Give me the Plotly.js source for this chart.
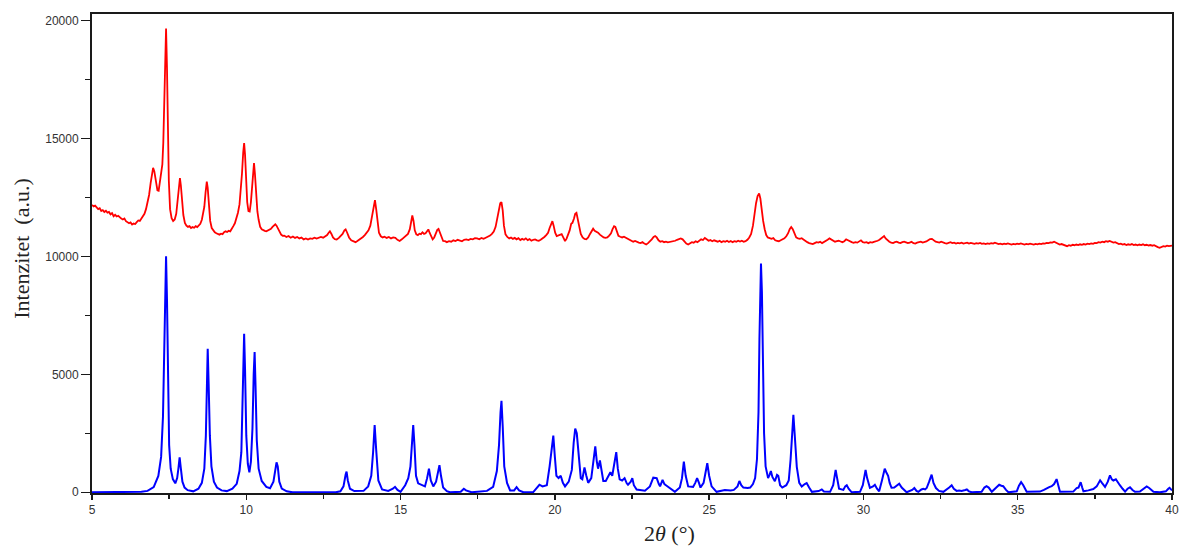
<!DOCTYPE html>
<html>
<head>
<meta charset="utf-8">
<script src="https://cdn.plot.ly/plotly-3.0.1.min.js"></script>
<style>html,body{margin:0;padding:0;background:#fff;}#chart{width:1181px;height:547px;}</style>
</head>
<body>
<div id="chart"></div>
<script>
// Experimental pattern (red): [2theta, intensity]
const redPoints = [
[5.00,12180],[5.05,12120],[5.10,12150],[5.15,12060],[5.20,12000],[5.25,12040],[5.30,11920],[5.35,11960],[5.40,11880],[5.45,11930],
[5.50,11850],[5.55,11880],[5.60,11780],[5.65,11830],[5.70,11700],[5.75,11760],[5.80,11690],[5.85,11720],[5.90,11640],[5.95,11600],
[6.00,11560],[6.05,11600],[6.10,11490],[6.15,11450],[6.20,11400],[6.25,11440],[6.30,11350],[6.35,11390],[6.40,11370],[6.45,11450],
[6.50,11520],[6.55,11500],[6.60,11600],[6.65,11650],[6.70,11800],[6.75,12000],[6.80,12250],[6.85,12600],[6.90,13100],[6.95,13650],
[6.98,13750],[7.02,13600],[7.07,13150],[7.12,12800],[7.16,12780],[7.20,13100],[7.24,13600],[7.28,13900],[7.31,14800],[7.34,16800],
[7.37,18800],[7.40,19650],[7.43,18000],[7.46,15400],[7.49,13200],[7.53,12000],[7.58,11620],[7.63,11500],[7.68,11560],[7.73,11800],
[7.78,12400],[7.82,13000],[7.85,13320],[7.88,13000],[7.92,12300],[7.96,11750],[8.01,11420],[8.06,11300],[8.11,11250],[8.16,11280],
[8.21,11200],[8.26,11240],[8.31,11210],[8.36,11280],[8.41,11240],[8.46,11300],[8.51,11380],[8.56,11550],[8.60,11850],[8.64,12100],
[8.68,12700],[8.72,13170],[8.75,12900],[8.79,12100],[8.83,11500],[8.88,11200],[8.93,11100],[8.98,11020],[9.03,10980],[9.08,10950],
[9.13,10920],[9.18,10960],[9.23,10940],[9.28,11020],[9.33,11060],[9.38,11030],[9.43,11080],[9.48,11060],[9.53,11150],[9.58,11280],
[9.63,11400],[9.68,11600],[9.73,11850],[9.78,12200],[9.82,12700],[9.86,13500],[9.90,14400],[9.93,14800],[9.96,14300],[9.99,13300],
[10.03,12300],[10.07,11920],[10.11,11900],[10.15,12300],[10.19,13000],[10.22,13700],[10.25,13950],[10.28,13500],[10.32,12600],[10.36,11900],
[10.40,11550],[10.45,11250],[10.50,11150],[10.55,11100],[10.60,11080],[10.65,11060],[10.70,11100],[10.75,11130],[10.80,11170],[10.85,11250],
[10.90,11330],[10.94,11360],[10.98,11300],[11.03,11150],[11.08,11000],[11.13,10920],[11.18,10870],[11.23,10880],[11.30,10820],[11.37,10860],
[11.44,10790],[11.51,10840],[11.58,10780],[11.65,10820],[11.72,10760],[11.79,10800],[11.86,10720],[11.93,10760],[12.00,10710],[12.07,10760],
[12.14,10740],[12.21,10790],[12.28,10750],[12.35,10780],[12.42,10820],[12.49,10790],[12.56,10850],[12.62,10900],[12.67,11000],[12.71,11060],
[12.76,10950],[12.81,10800],[12.87,10730],[12.93,10710],[13.00,10780],[13.06,10850],[13.12,10950],[13.18,11100],[13.22,11140],[13.27,11000],
[13.33,10800],[13.40,10680],[13.47,10640],[13.54,10600],[13.60,10650],[13.66,10700],[13.72,10760],[13.78,10820],[13.84,10900],[13.90,10980],
[13.96,11100],[14.02,11300],[14.08,11700],[14.13,12200],[14.17,12380],[14.21,12000],[14.25,11400],[14.30,11000],[14.36,10850],[14.42,10800],
[14.48,10830],[14.55,10780],[14.62,10820],[14.69,10760],[14.76,10800],[14.83,10780],[14.90,10700],[14.97,10650],[15.04,10720],[15.11,10800],
[15.18,10870],[15.24,10950],[15.30,11150],[15.34,11500],[15.38,11730],[15.42,11500],[15.46,11100],[15.51,10930],[15.56,10900],[15.61,10960],
[15.66,10940],[15.71,11020],[15.76,10950],[15.81,10980],[15.86,11080],[15.90,11140],[15.94,11000],[15.99,10850],[16.04,10720],[16.09,10800],
[16.14,10950],[16.19,11120],[16.23,11160],[16.28,11000],[16.33,10800],[16.38,10650],[16.44,10640],[16.50,10600],[16.57,10640],[16.64,10620],
[16.71,10680],[16.78,10650],[16.85,10700],[16.92,10660],[16.99,10640],[17.06,10700],[17.13,10720],[17.20,10690],[17.27,10740],[17.34,10720],
[17.41,10770],[17.48,10760],[17.55,10720],[17.62,10780],[17.69,10740],[17.76,10790],[17.83,10830],[17.90,10880],[17.96,10950],[18.02,11050],
[18.08,11250],[18.13,11600],[18.18,12000],[18.23,12250],[18.27,12300],[18.31,11950],[18.35,11300],[18.40,10930],[18.46,10820],[18.52,10760],
[18.58,10800],[18.64,10740],[18.70,10780],[18.76,10720],[18.82,10770],[18.88,10690],[18.94,10740],[19.00,10700],[19.06,10760],[19.12,10690],
[19.18,10730],[19.24,10660],[19.30,10700],[19.36,10720],[19.42,10680],[19.48,10660],[19.54,10700],[19.60,10750],[19.66,10820],[19.72,10900],
[19.78,11000],[19.83,11200],[19.88,11420],[19.92,11490],[19.96,11300],[20.01,11000],[20.06,10860],[20.11,10880],[20.16,10920],[20.22,10940],
[20.28,10780],[20.33,10650],[20.38,10750],[20.43,10900],[20.48,11100],[20.53,11380],[20.57,11420],[20.62,11600],[20.66,11800],[20.70,11840],
[20.74,11600],[20.79,11200],[20.84,10950],[20.90,10800],[20.96,10740],[21.02,10720],[21.08,10800],[21.14,10950],[21.19,11100],[21.24,11170],
[21.29,11080],[21.34,11050],[21.40,11000],[21.46,10920],[21.52,10860],[21.58,10800],[21.64,10780],[21.70,10800],[21.76,10880],[21.82,10980],
[21.87,11150],[21.92,11280],[21.96,11250],[22.01,11000],[22.06,10870],[22.12,10830],[22.18,10800],[22.24,10830],[22.30,10790],[22.36,10760],
[22.42,10720],[22.48,10680],[22.54,10620],[22.60,10650],[22.66,10600],[22.72,10580],[22.78,10560],[22.84,10600],[22.90,10540],[22.96,10500],
[23.02,10560],[23.08,10620],[23.14,10720],[23.20,10820],[23.25,10860],[23.30,10800],[23.36,10680],[23.42,10620],[23.48,10640],[23.54,10600],
[23.60,10620],[23.66,10590],[23.72,10600],[23.78,10640],[23.84,10620],[23.90,10660],[23.96,10700],[24.02,10740],[24.08,10760],[24.14,10720],
[24.20,10620],[24.26,10540],[24.32,10500],[24.38,10540],[24.44,10600],[24.50,10580],[24.56,10640],[24.62,10600],[24.68,10660],[24.74,10720],
[24.80,10690],[24.86,10780],[24.92,10720],[24.98,10660],[25.04,10690],[25.10,10640],[25.16,10680],[25.22,10650],[25.28,10620],[25.34,10660],
[25.40,10600],[25.46,10640],[25.52,10620],[25.58,10660],[25.64,10610],[25.70,10650],[25.76,10600],[25.82,10640],[25.88,10620],[25.94,10660],
[26.00,10630],[26.06,10660],[26.12,10620],[26.18,10640],[26.24,10700],[26.30,10800],[26.36,10950],[26.42,11300],[26.47,11800],[26.52,12250],
[26.57,12550],[26.62,12660],[26.66,12450],[26.70,12000],[26.75,11500],[26.80,11150],[26.85,10900],[26.90,10800],[26.96,10780],[27.02,10740],
[27.08,10770],[27.14,10680],[27.20,10660],[27.26,10640],[27.32,10680],[27.38,10720],[27.44,10760],[27.50,10850],[27.56,10980],[27.61,11150],
[27.66,11240],[27.71,11150],[27.76,10950],[27.82,10800],[27.88,10760],[27.94,10740],[28.00,10770],[28.06,10700],[28.12,10640],[28.18,10600],
[28.24,10560],[28.30,10540],[28.36,10520],[28.42,10560],[28.48,10600],[28.54,10580],[28.60,10620],[28.66,10560],[28.72,10600],[28.78,10650],
[28.84,10700],[28.90,10760],[28.96,10700],[29.02,10660],[29.08,10620],[29.14,10640],[29.20,10660],[29.26,10630],[29.32,10600],[29.38,10640],
[29.44,10720],[29.50,10680],[29.56,10620],[29.62,10600],[29.68,10570],[29.74,10600],[29.80,10580],[29.86,10620],[29.92,10680],[29.98,10600],
[30.04,10580],[30.10,10600],[30.16,10560],[30.22,10600],[30.28,10580],[30.34,10610],[30.40,10620],[30.46,10660],[30.52,10700],[30.58,10760],
[30.63,10830],[30.67,10860],[30.72,10760],[30.78,10680],[30.84,10620],[30.90,10580],[30.96,10560],[31.02,10600],[31.08,10620],[31.14,10580],
[31.20,10560],[31.26,10600],[31.32,10620],[31.38,10590],[31.44,10560],[31.50,10580],[31.56,10620],[31.62,10560],[31.68,10540],[31.74,10580],
[31.80,10600],[31.86,10620],[31.92,10580],[31.98,10600],[32.04,10630],[32.10,10680],[32.16,10730],[32.22,10740],[32.28,10680],[32.34,10620],
[32.40,10600],[32.46,10580],[32.52,10620],[32.58,10580],[32.64,10560],[32.70,10540],[32.76,10580],[32.82,10600],[32.88,10560],[32.94,10580],
[33.00,10540],[33.06,10570],[33.12,10550],[33.18,10580],[33.24,10540],[33.30,10560],[33.36,10580],[33.42,10540],[33.48,10570],[33.54,10550],
[33.60,10530],[33.66,10560],[33.72,10540],[33.78,10570],[33.84,10530],[33.90,10550],[33.96,10520],[34.02,10550],[34.08,10530],[34.14,10560],
[34.20,10540],[34.26,10580],[34.32,10560],[34.38,10520],[34.44,10540],[34.50,10510],[34.56,10540],[34.62,10520],[34.68,10550],[34.74,10530],
[34.80,10500],[34.86,10530],[34.92,10510],[34.98,10540],[35.04,10520],[35.10,10550],[35.16,10520],[35.22,10500],[35.28,10530],[35.34,10510],
[35.40,10540],[35.46,10520],[35.52,10500],[35.58,10530],[35.64,10510],[35.70,10540],[35.76,10520],[35.82,10550],[35.88,10540],[35.94,10570],
[36.00,10560],[36.06,10590],[36.12,10580],[36.18,10620],[36.24,10570],[36.30,10540],[36.36,10500],[36.42,10520],[36.48,10480],[36.54,10450],
[36.60,10430],[36.66,10470],[36.72,10450],[36.78,10490],[36.84,10470],[36.90,10500],[36.96,10480],[37.02,10510],[37.08,10490],[37.14,10520],
[37.20,10500],[37.26,10540],[37.32,10520],[37.38,10550],[37.44,10530],[37.50,10570],[37.56,10560],[37.62,10600],[37.68,10580],[37.74,10620],
[37.80,10600],[37.86,10640],[37.92,10620],[37.98,10650],[38.04,10610],[38.10,10580],[38.16,10600],[38.22,10560],[38.28,10520],[38.34,10540],
[38.40,10500],[38.46,10520],[38.52,10480],[38.58,10510],[38.64,10490],[38.70,10520],[38.76,10480],[38.82,10500],[38.88,10470],[38.94,10500],
[39.00,10480],[39.06,10510],[39.12,10470],[39.18,10490],[39.24,10460],[39.30,10480],[39.36,10450],[39.42,10470],[39.48,10420],[39.54,10390],
[39.60,10360],[39.66,10400],[39.72,10430],[39.78,10410],[39.84,10450],[39.90,10430],[39.96,10460],[40.00,10450]
];

// Calculated pattern (blue): [2theta, intensity]
const bluePoints = [
[5.00,0],[6.30,0],[6.60,20],[6.80,60],[7.00,220],[7.15,690],[7.24,1500],[7.30,3200],[7.34,5500],[7.37,8500],
[7.40,10000],[7.43,8200],[7.46,4800],[7.50,2000],[7.55,1000],[7.62,560],[7.70,380],[7.76,600],[7.80,1000],[7.84,1480],
[7.88,1000],[7.93,450],[8.00,200],[8.10,90],[8.28,40],[8.45,150],[8.56,400],[8.64,1000],[8.69,2400],[8.72,4500],
[8.75,6080],[8.78,4600],[8.82,2400],[8.87,1100],[8.95,450],[9.05,200],[9.20,80],[9.37,50],[9.55,150],[9.69,360],
[9.78,900],[9.84,1700],[9.88,3600],[9.91,6000],[9.93,6720],[9.96,5200],[10.00,2400],[10.05,1200],[10.10,850],[10.15,1300],
[10.20,2700],[10.24,5000],[10.27,5940],[10.30,4500],[10.34,2200],[10.40,1000],[10.50,480],[10.65,230],[10.77,170],[10.88,450],
[10.94,850],[10.98,1270],[11.02,1100],[11.07,450],[11.15,160],[11.31,40],[11.50,0],[12.90,0],[13.05,40],[13.15,250],
[13.22,750],[13.25,880],[13.29,500],[13.36,150],[13.50,50],[13.80,60],[13.95,250],[14.05,700],[14.11,1700],[14.16,2850],
[14.21,1800],[14.28,500],[14.40,120],[14.60,60],[14.75,150],[14.82,230],[14.90,100],[15.00,20],[15.15,300],[15.25,600],
[15.32,1100],[15.37,2200],[15.41,2850],[15.45,2000],[15.50,700],[15.57,380],[15.68,300],[15.79,250],[15.86,600],[15.92,1000],
[15.98,500],[16.06,250],[16.15,450],[16.21,900],[16.26,1150],[16.31,700],[16.38,200],[16.50,50],[16.60,0],[16.95,20],
[17.05,150],[17.12,80],[17.30,0],[17.80,60],[18.00,230],[18.12,900],[18.19,2000],[18.24,3400],[18.27,3880],[18.31,2800],
[18.36,1100],[18.45,400],[18.55,80],[18.68,80],[18.76,220],[18.84,80],[18.98,0],[19.30,10],[19.43,200],[19.50,320],
[19.60,250],[19.74,300],[19.83,1100],[19.90,2000],[19.95,2400],[20.00,1500],[20.05,700],[20.12,600],[20.19,700],[20.26,400],
[20.33,250],[20.45,450],[20.55,950],[20.61,2100],[20.66,2700],[20.71,2500],[20.77,1500],[20.84,600],[20.89,550],[20.96,1050],
[21.02,700],[21.08,400],[21.18,600],[21.25,1400],[21.31,1950],[21.36,1300],[21.40,1000],[21.46,1350],[21.52,800],[21.57,480],
[21.65,480],[21.73,700],[21.80,850],[21.86,700],[21.93,1200],[21.99,1700],[22.04,1000],[22.10,550],[22.18,500],[22.26,600],
[22.33,380],[22.37,320],[22.46,450],[22.51,600],[22.56,300],[22.65,120],[22.92,70],[23.08,250],[23.19,620],[23.30,600],
[23.37,350],[23.41,250],[23.49,530],[23.55,350],[23.60,300],[23.73,180],[23.89,20],[24.05,200],[24.12,600],[24.18,1300],
[24.24,700],[24.32,250],[24.48,230],[24.55,400],[24.61,600],[24.67,400],[24.72,200],[24.82,400],[24.89,900],[24.94,1230],
[25.00,700],[25.08,250],[25.24,20],[25.51,100],[25.70,80],[25.80,100],[25.92,250],[25.98,480],[26.04,300],[26.11,200],
[26.25,180],[26.33,200],[26.42,350],[26.49,600],[26.55,1400],[26.60,3400],[26.63,6500],[26.66,9000],[26.68,9700],[26.71,8500],
[26.74,5500],[26.78,2500],[26.83,1100],[26.91,600],[26.96,750],[27.00,900],[27.05,650],[27.13,470],[27.20,740],[27.24,700],
[27.30,300],[27.37,200],[27.50,300],[27.58,500],[27.64,1400],[27.69,2700],[27.73,3280],[27.77,2500],[27.84,1080],[27.92,400],
[28.00,240],[28.10,350],[28.16,390],[28.24,200],[28.33,20],[28.55,50],[28.65,120],[28.72,30],[28.92,20],[29.02,300],
[29.07,700],[29.10,950],[29.14,650],[29.21,150],[29.35,100],[29.41,250],[29.46,300],[29.52,150],[29.62,0],[29.89,20],
[29.98,300],[30.03,700],[30.07,950],[30.12,600],[30.21,190],[30.31,250],[30.37,320],[30.44,150],[30.51,40],[30.60,500],
[30.66,900],[30.69,1000],[30.74,850],[30.80,700],[30.85,400],[30.91,190],[31.00,200],[31.10,300],[31.16,360],[31.24,200],
[31.40,0],[31.58,100],[31.65,180],[31.72,60],[31.78,20],[31.88,120],[31.94,150],[32.00,120],[32.05,180],[32.13,450],
[32.21,750],[32.27,400],[32.35,180],[32.45,60],[32.59,20],[32.78,200],[32.86,300],[32.93,150],[33.02,60],[33.10,80],
[33.18,60],[33.30,100],[33.35,120],[33.42,40],[33.51,0],[33.83,20],[33.92,200],[33.99,260],[34.06,200],[34.16,20],
[34.30,200],[34.40,320],[34.47,280],[34.53,260],[34.62,100],[34.70,0],[34.97,40],[35.04,280],[35.11,430],[35.18,300],
[35.29,20],[35.72,30],[35.85,100],[35.94,180],[36.02,220],[36.10,260],[36.18,350],[36.26,560],[36.32,300],[36.37,20],
[36.80,30],[36.91,180],[36.97,200],[37.04,430],[37.09,200],[37.13,40],[37.29,80],[37.45,140],[37.56,250],[37.62,400],
[37.67,510],[37.73,400],[37.83,230],[37.92,450],[37.99,720],[38.05,550],[38.10,500],[38.18,550],[38.25,400],[38.31,300],
[38.40,150],[38.48,30],[38.56,150],[38.64,210],[38.72,100],[38.80,20],[38.96,30],[39.08,150],[39.18,250],[39.26,180],
[39.40,20],[39.61,0],[39.80,40],[39.88,150],[39.92,190],[40.00,80]
];

const xTickVals = [5, 10, 15, 20, 25, 30, 35, 40];
const yTickVals = [0, 5000, 10000, 15000, 20000];
const yTitle = 'Intenzitet\u00a0\u00a0(a.u.)';
const xTitle = '2<i>θ</i>\u00a0(°)';

const axisColor = '#1a1a1a';
const tickFont = {family: 'Liberation Sans, Arial, sans-serif', size: 12, color: '#333'};
const titleFont = {family: 'Liberation Serif, Times New Roman, serif', size: 22, color: '#222'};

const traces = [
  {x: bluePoints.map(p => p[0]), y: bluePoints.map(p => p[1]), type: 'scatter', mode: 'lines',
   line: {color: '#0000ff', width: 2}, hoverinfo: 'skip'},
  {x: redPoints.map(p => p[0]), y: redPoints.map(p => p[1]), type: 'scatter', mode: 'lines',
   line: {color: '#ff0000', width: 1.8}, hoverinfo: 'skip'}
];

const layout = {
  width: 1181, height: 547,
  margin: {l: 92, r: 9, t: 14, b: 54},
  paper_bgcolor: '#fff', plot_bgcolor: '#fff',
  showlegend: false,
  xaxis: {
    range: [5, 40], tickvals: xTickVals, ticktext: xTickVals.map(String),
    ticks: 'outside', ticklen: 5, tickwidth: 1.5, tickcolor: axisColor,
    showline: true, linewidth: 2, linecolor: axisColor, mirror: true,
    showgrid: false, zeroline: false, tickfont: tickFont,
    minor: {ticks: 'outside', dtick: 2.5, tick0: 5, ticklen: 4, tickwidth: 1.5, tickcolor: axisColor, showgrid: false}
  },
  yaxis: {
    range: [-30, 20270], tickvals: yTickVals, ticktext: yTickVals.map(String),
    ticks: 'outside', ticklen: 9, tickwidth: 1.5, tickcolor: axisColor,
    showline: true, linewidth: 2, linecolor: axisColor, mirror: true,
    showgrid: false, zeroline: false, tickfont: tickFont,
    minor: {ticks: 'outside', dtick: 2500, tick0: 0, ticklen: 5, tickwidth: 1.5, tickcolor: axisColor, showgrid: false}
  },
  annotations: [
    {text: yTitle, xref: 'paper', yref: 'paper', x: -0.0648, y: 0.51, xanchor: 'center', yanchor: 'middle',
     textangle: -90, showarrow: false, font: titleFont},
    {text: xTitle, xref: 'paper', yref: 'paper', x: 0.535, y: -0.085, xanchor: 'center', yanchor: 'middle',
     showarrow: false, font: titleFont}
  ]
};

Plotly.newPlot('chart', traces, layout, {displayModeBar: false, staticPlot: true});
</script>
</body>
</html>
